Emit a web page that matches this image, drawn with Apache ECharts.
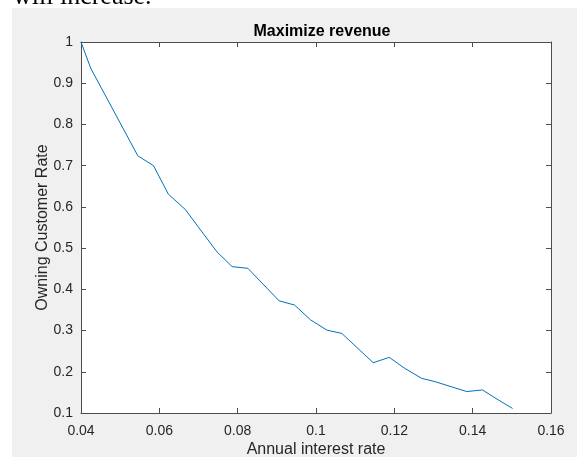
<!DOCTYPE html>
<html>
<head>
<meta charset="utf-8">
<script src="https://cdn.jsdelivr.net/npm/echarts@6/dist/echarts.min.js"></script>
<style>
html,body{margin:0;padding:0;background:#fff;}
#c{width:577px;height:457px;}
</style>
</head>
<body>
<div id="c"></div>
<script>
var titleText = 'Maximize revenue';
var xName = 'Annual interest rate';
var yName = 'Owning Customer Rate';
var topText = 'will increase.';
var interestRate = [0.04, 0.0425, 0.0545, 0.0585, 0.0623, 0.0666, 0.0747, 0.0786, 0.0826, 0.0906, 0.0945, 0.0986, 0.1028, 0.1066, 0.1146, 0.1187, 0.1227, 0.1270, 0.1304, 0.1385, 0.1425, 0.1465, 0.1502];
var customerRate = [1.0, 0.936, 0.724, 0.700, 0.631, 0.594, 0.491, 0.455, 0.451, 0.372, 0.362, 0.326, 0.301, 0.293, 0.222, 0.235, 0.208, 0.184, 0.176, 0.152, 0.156, 0.132, 0.111];
var xTicks = [0.04, 0.06, 0.08, 0.1, 0.12, 0.14, 0.16];
var yTicks = [0.1, 0.2, 0.3, 0.4, 0.5, 0.6, 0.7, 0.8, 0.9, 1];

var pts = interestRate.map(function(x, i){ return [x, customerRate[i]]; });
var font = '"Liberation Sans", Arial, sans-serif';
var axisCol = '#4d4d4d';
var txtCol = '#262626';

function fmt(v){ return String(Math.round(v*1000)/1000); }

var chart = echarts.init(document.getElementById('c'), null, {renderer:'canvas'});
chart.setOption({
  animation: false,
  backgroundColor: 'transparent',
  graphic: [
    {type:'rect', z:-10, silent:true, shape:{x:12, y:8, width:565, height:449}, style:{fill:'#f0f0f0'}},
    {type:'text', z:-5, silent:true, style:{x:13, y:10, text:topText, font:'26px "Liberation Serif", "Times New Roman", serif', fill:'#000', textVerticalAlign:'bottom'}}
  ],
  title: {
    text: titleText, left: 317, top: 19, textAlign: 'center',
    textStyle: {fontFamily: font, fontSize: 16, fontWeight: 'bold', color: '#000'}
  },
  grid: {left: 81, top: 42, right: 26, bottom: 44, show: true, backgroundColor: '#fff', borderWidth: 0, containLabel: false, outerBoundsMode: 'none'},
  xAxis: [{
    type: 'value', min: 0.04, max: 0.16, interval: 0.02, position: 'bottom',
    name: xName, nameLocation: 'middle', nameGap: 29, nameMoveOverlap: false,
    nameTextStyle: {fontFamily: font, fontSize: 16, color: txtCol},
    axisLine: {show: true, onZero: false, lineStyle: {color: axisCol, width: 1}},
    axisTick: {show: true, inside: true, length: 5, lineStyle: {color: axisCol}},
    axisLabel: {fontFamily: font, fontSize: 14, color: txtCol, margin: 11, formatter: fmt},
    splitLine: {show: false}
  }, {
    type: 'value', min: 0.04, max: 0.16, interval: 0.02, position: 'top',
    axisLine: {show: true, onZero: false, lineStyle: {color: axisCol, width: 1}},
    axisTick: {show: true, inside: true, length: 5, lineStyle: {color: axisCol}},
    axisLabel: {show: false}, splitLine: {show: false}
  }],
  yAxis: [{
    type: 'value', min: 0.1, max: 1, interval: 0.1, position: 'left',
    name: yName, nameLocation: 'middle', nameGap: 30, nameRotate: 90, nameMoveOverlap: false,
    nameTextStyle: {fontFamily: font, fontSize: 16, color: txtCol},
    axisLine: {show: true, onZero: false, lineStyle: {color: axisCol, width: 1}},
    axisTick: {show: true, inside: true, length: 5, lineStyle: {color: axisCol}},
    axisLabel: {fontFamily: font, fontSize: 14, color: txtCol, margin: 8, formatter: fmt},
    splitLine: {show: false}
  }, {
    type: 'value', min: 0.1, max: 1, interval: 0.1, position: 'right',
    axisLine: {show: true, onZero: false, lineStyle: {color: axisCol, width: 1}},
    axisTick: {show: true, inside: true, length: 5, lineStyle: {color: axisCol}},
    axisLabel: {show: false}, splitLine: {show: false}
  }],
  series: [{
    type: 'line', data: pts, xAxisIndex: 0, yAxisIndex: 0,
    showSymbol: false, symbol: 'none',
    lineStyle: {color: '#0072BD', width: 1},
    clip: false
  }]
});
</script>
</body>
</html>
